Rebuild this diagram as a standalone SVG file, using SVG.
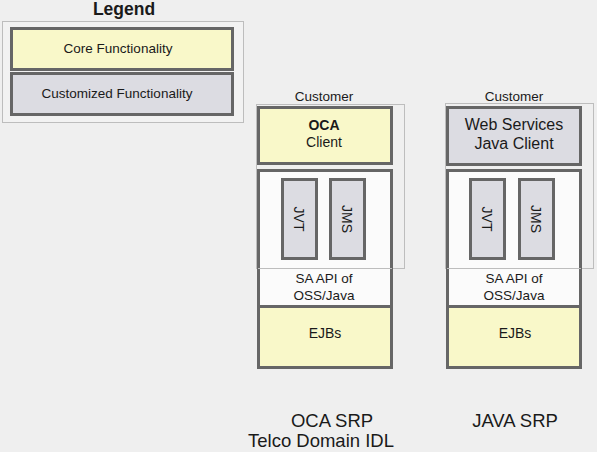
<svg xmlns="http://www.w3.org/2000/svg" width="597" height="452" viewBox="0 0 597 452">
<style>
text{font-family:"Liberation Sans",Arial,sans-serif;fill:#1a1a1a;text-anchor:middle}
.thin{fill:none;stroke:#bdbdbd;stroke-width:1}
.core{fill:#f9f8c9;stroke:#666;stroke-width:3}
.cust{fill:#dcdce2;stroke:#666;stroke-width:3}
.plain{fill:#fbfbfb;stroke:#666;stroke-width:3}
.s13{font-size:13.5px}
.s14{font-size:14px}
.s16{font-size:16px}
.big{font-size:18.5px}
</style>
<rect width="597" height="452" fill="#efefef"/>
<g id="legend">
<text x="124" y="15" font-size="17.5" font-weight="bold">Legend</text>
<rect x="2.5" y="21.5" width="241" height="101" fill="#f2f2f2" stroke="#bdbdbd"/>
<rect x="11.5" y="28.5" width="221" height="41" class="core"/>
<text x="118" y="53" class="s13">Core Functionality</text>
<rect x="11.5" y="73.5" width="221" height="41" class="cust"/>
<text x="117" y="98" class="s13">Customized Functionality</text>
</g>
<g id="oca-stack">
<text x="324" y="101" class="s13">Customer</text>
<rect x="256.5" y="104.5" width="148" height="164" class="thin"/>
<rect x="258.5" y="107.5" width="133" height="56" class="core"/>
<text x="324" y="130" class="s14" font-weight="bold">OCA</text>
<text x="324" y="147" class="s14">Client</text>
<rect x="258.5" y="170.5" width="133" height="136" class="plain"/>
<line x1="258" y1="268.5" x2="392" y2="268.5" stroke="#bdbdbd"/>
<rect x="282.5" y="179.5" width="34" height="79" class="cust"/>
<text transform="translate(294,219) rotate(90)" class="s14">JVT</text>
<rect x="330.5" y="179.5" width="34" height="79" class="cust"/>
<text transform="translate(342,219) rotate(90)" class="s14">JMS</text>
<text x="324" y="283" class="s13">SA API of</text>
<text x="324" y="300" class="s13">OSS/Java</text>
<rect x="258.5" y="306.5" width="133" height="61" class="core"/>
<text x="325" y="338" class="s14">EJBs</text>
<text x="332" y="427" class="big">OCA SRP</text>
<text x="321" y="447" class="big">Telco Domain IDL</text>
</g>
<g id="java-stack">
<text x="514" y="101" class="s13">Customer</text>
<rect x="445.5" y="103.5" width="148" height="165" class="thin"/>
<rect x="447.5" y="107.5" width="133" height="57" class="cust"/>
<text x="514" y="130" class="s16">Web Services</text>
<text x="514" y="149" class="s16">Java Client</text>
<rect x="447.5" y="170.5" width="133" height="136" class="plain"/>
<line x1="447" y1="268.5" x2="581" y2="268.5" stroke="#bdbdbd"/>
<rect x="470.5" y="179.5" width="34" height="79" class="cust"/>
<text transform="translate(482,219) rotate(90)" class="s14">JVT</text>
<rect x="519.5" y="179.5" width="34" height="79" class="cust"/>
<text transform="translate(531,219) rotate(90)" class="s14">JMS</text>
<text x="514" y="283" class="s13">SA API of</text>
<text x="514" y="300" class="s13">OSS/Java</text>
<rect x="447.5" y="306.5" width="133" height="61" class="core"/>
<text x="515" y="338" class="s14">EJBs</text>
<text x="515" y="427" class="big">JAVA SRP</text>
</g>
<g id="connectors"></g>
</svg>
